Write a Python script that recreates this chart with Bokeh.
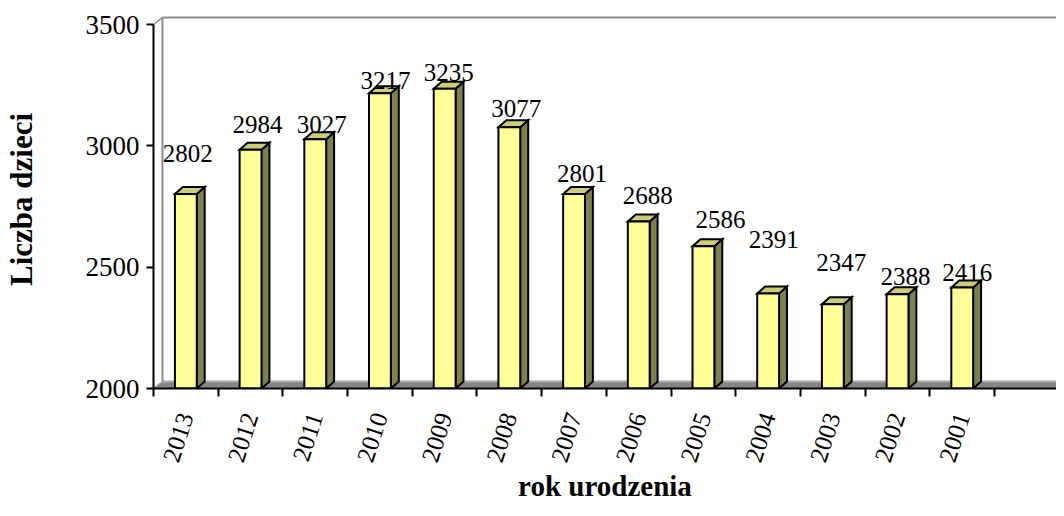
import math
from bokeh.plotting import figure
from bokeh.models import Range1d, FixedTicker, ColumnDataSource
from bokeh.core.properties import value
from bokeh.embed import file_html
from bokeh.resources import INLINE

# ---- data ----
years = ["2013", "2012", "2011", "2010", "2009", "2008", "2007",
         "2006", "2005", "2004", "2003", "2002", "2001"]
counts = [2802, 2984, 3027, 3217, 3235, 3077, 2801, 2688, 2586, 2391, 2347, 2388, 2416]
y_ticks = [2000, 2500, 3000, 3500]
n_slots = 14  # Excel left one empty category slot on the right

# label placement nudges (pixels) as in the original chart
label_lift_px = [40, 25, 15, 13, 16, 19, 21, 26, 27, 54, 42, 18, 15]
label_nudge_px = [2, 7, 6.5, 5.5, 4, 7, 8, 9, 17, 5.5, 8.5, 8, 5]

FONT = "Liberation Serif"

# ---- layout ----
W, H = 1056, 508
b_left, b_right, b_top = 146, 0, 10
frame_bottom = 388           # figure px from top where 2000 sits
px_3500 = 24                 # figure px from top where 3500 sits
b_bottom = H - frame_bottom
frame_w = W - b_left - b_right
frame_h = frame_bottom - b_top
slot_px = 65.2
y_per_px = (y_ticks[-1] - y_ticks[0]) / (frame_bottom - px_3500)
x_end = frame_w / slot_px
y_start = y_ticks[0]
y_end = y_start + frame_h * y_per_px

p = figure(width=W, height=H, output_backend="svg", toolbar_location=None,
           x_range=Range1d(0, x_end), y_range=Range1d(y_start, y_end),
           min_border_left=b_left, min_border_right=b_right,
           min_border_top=b_top, min_border_bottom=b_bottom,
           background_fill_color="white", border_fill_color="white")
p.outline_line_color = None
p.xgrid.grid_line_color = None
p.ygrid.grid_line_color = None

# depth offsets (converted from pixels to data units)
wall_dx, wall_dy = 9 / slot_px, 7 * y_per_px
bar_dx, bar_dy = 8 / slot_px, 7 * y_per_px
bar_w = 22 / slot_px

# floor
xr = n_slots + 1
p.patch([0, wall_dx, xr, xr], [y_start, y_start + wall_dy, y_start + wall_dy, y_start],
        fill_color="#868686", line_color=None)
p.line([wall_dx, xr], [y_start + wall_dy] * 2, line_color="#a8a8a8", line_width=2)
p.line([0, wall_dx], [y_start, y_start + wall_dy], line_color="#a8a8a8", line_width=1.5)

# back wall lines
top_y = y_ticks[-1] + wall_dy
p.line([wall_dx, wall_dx], [y_start + wall_dy, top_y], line_color="#8a8a8a", line_width=2)
p.line([wall_dx, xr], [top_y, top_y], line_color="#8a8a8a", line_width=2)
p.line([0, wall_dx], [y_ticks[-1], top_y], line_color="#8a8a8a", line_width=1.5)

# bars
fx, fy, tx, ty, sx, sy = [], [], [], [], [], []
for i, v in enumerate(counts):
    c = i + 0.5
    x0, x1 = c - bar_w / 2, c + bar_w / 2
    fx.append([x0, x0, x1, x1]); fy.append([y_start, v, v, y_start])
    tx.append([x0, x0 + bar_dx, x1 + bar_dx, x1]); ty.append([v, v + bar_dy, v + bar_dy, v])
    sx.append([x1, x1 + bar_dx, x1 + bar_dx, x1])
    sy.append([y_start, y_start + bar_dy, v + bar_dy, v])

p.patches(sx, sy, fill_color="#80804f", line_color="black", line_width=2, line_join="miter")
p.patches(tx, ty, fill_color="#cccc7a", line_color="black", line_width=2, line_join="miter")
p.patches(fx, fy, fill_color="#ffff99", line_color="black", line_width=2, line_join="miter")

# value labels
lab = ColumnDataSource(dict(
    x=[i + 0.5 for i in range(len(counts))],
    y=counts,
    t=[str(v) for v in counts],
    dx=label_nudge_px,
    dy=[-d for d in label_lift_px],
))
p.text(x="x", y="y", text="t", x_offset="dx", y_offset="dy", source=lab,
       text_font=value(FONT), text_font_size="25px", text_color="black",
       text_align="center", text_baseline="alphabetic")

# y axis
ya = p.yaxis[0]
ya.ticker = FixedTicker(ticks=y_ticks)
ya.bounds = (y_ticks[0], y_ticks[-1])
ya.axis_line_width = 2
ya.axis_line_color = "black"
ya.major_tick_line_width = 2
ya.major_tick_line_color = "black"
ya.major_tick_out = 7
ya.major_tick_in = 0
ya.minor_tick_line_color = None
ya.major_label_text_font = FONT
ya.major_label_text_font_size = "27px"
ya.major_label_text_color = "black"
ya.major_label_standoff = 7
ya.axis_label = "Liczba dzieci"
ya.axis_label_text_font = FONT
ya.axis_label_text_font_style = "bold"
ya.axis_label_text_font_size = "31px"
ya.axis_label_text_color = "black"
ya.axis_label_standoff = 44

# x axis
xa = p.xaxis[0]
centers = [i + 0.5 for i in range(n_slots)]
xa.ticker = FixedTicker(ticks=centers, minor_ticks=list(range(n_slots + 1)))
xa.major_label_overrides = {c: (years[i] if i < len(years) else "") for i, c in enumerate(centers)}
xa.axis_line_width = 2
xa.axis_line_color = "black"
xa.major_tick_line_color = None
xa.major_tick_out = 8
xa.major_tick_in = 0
xa.minor_tick_line_color = "black"
xa.minor_tick_line_width = 2
xa.minor_tick_out = 8
xa.minor_tick_in = 0
xa.major_label_orientation = math.radians(72)
xa.major_label_text_font = FONT
xa.major_label_text_font_size = "25px"
xa.major_label_text_color = "black"
xa.major_label_standoff = 17
xa.axis_label = "rok urodzenia"
xa.axis_label_text_font = FONT
xa.axis_label_text_font_style = "bold"
xa.axis_label_text_font_size = "29px"
xa.axis_label_text_color = "black"
xa.axis_label_standoff = 1

open("out.html", "w").write(file_html(p, INLINE))
